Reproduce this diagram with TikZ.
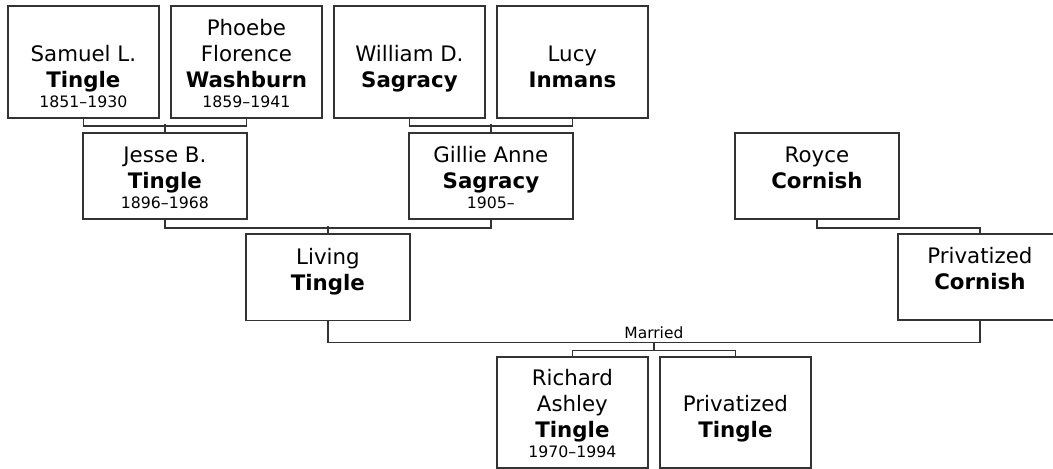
\documentclass[tikz,border=0pt]{standalone}
\usepackage{fontspec}
\setmainfont{DejaVu Sans}
% person card: fixed size, text sits on the bottom
\newcommand{\yrs}{\fontsize{11.8}{15}\selectfont\strut}
\newcommand{\card}[3]{\parbox[c][#1][b]{#2}{\centering\fontsize{16}{19.5}\selectfont #3\par\vspace*{3.4pt}}}

\begin{document}
\begin{tikzpicture}[x=0.75pt, y=-0.75pt,
  person/.style={draw=black!80, line width=1.35pt, inner sep=0pt, anchor=north west},
  link/.style={draw=black!80, line width=1.25pt},
  married/.style={font=\fontsize{11.6}{14}\selectfont, inner sep=2.5pt}]
\useasboundingbox (0,0) rectangle (1053,468);
\clip (0,0) rectangle (1053,468);
% grandparents
\node[person] (samuel) at (7,5) {\card{84pt}{113.25pt}{Samuel L.\\ \textbf{Tingle}\\ \yrs 1851–1930}};
\node[person] (phoebe) at (170,5) {\card{84pt}{113.25pt}{Phoebe\\ Florence\\ \textbf{Washburn}\\ \yrs 1859–1941}};
\node[person] (william) at (333,5) {\card{84pt}{113.25pt}{William D.\\ \textbf{Sagracy}\\ \yrs}};
\node[person] (lucy) at (496,5) {\card{84pt}{113.25pt}{Lucy\\ \textbf{Inmans}\\ \yrs}};
% parents
\node[person] (jesse) at (82,132) {\card{64.5pt}{123pt}{Jesse B.\\ \textbf{Tingle}\\ \yrs 1896–1968}};
\node[person] (gillie) at (408,132) {\card{64.5pt}{123pt}{Gillie Anne\\ \textbf{Sagracy}\\ \yrs 1905–}};
\node[person] (royce) at (734,132) {\card{64.5pt}{123pt}{Royce\\ \textbf{Cornish}\\ \yrs}};
\node[person] (living) at (245,233) {\card{65pt}{123pt}{Living\\ \textbf{Tingle}\\ \yrs}};
\node[person] (pcornish) at (897,233) {\card{64.5pt}{123pt}{Privatized\\ \textbf{Cornish}\\ \yrs}};
% children
\node[person] (richard) at (496,356) {\card{83.25pt}{113.25pt}{Richard\\ Ashley\\ \textbf{Tingle}\\ \yrs 1970–1994}};
\node[person] (ptingle) at (659,356) {\card{83.25pt}{113.25pt}{Privatized\\ \textbf{Tingle}\\ \yrs}};
% family lines
\draw[link] (samuel.south) -- ++(0,7) -| (phoebe.south);
\draw[link] (jesse.north) -- ++(0,-8);
\draw[link] (william.south) -- ++(0,7) -| (lucy.south);
\draw[link] (gillie.north) -- ++(0,-8);
\draw[link] (jesse.south) -- ++(0,8) -| (gillie.south);
\draw[link] (living.north) -- ++(0,-7);
\draw[link] (royce.south) -- ++(0,8) -| (pcornish.north);
\draw[link] (living.south) -- ++(0,21) -| coordinate[pos=0.25] (wed) (pcornish.south);
\node[married, above] (wedlabel) at (wed) {Married};
\draw[link] (wed) -- ++(0,8) -| (richard.north);
\draw[link] (wed) -- ++(0,8) -| (ptingle.north);
\end{tikzpicture}
\end{document}
